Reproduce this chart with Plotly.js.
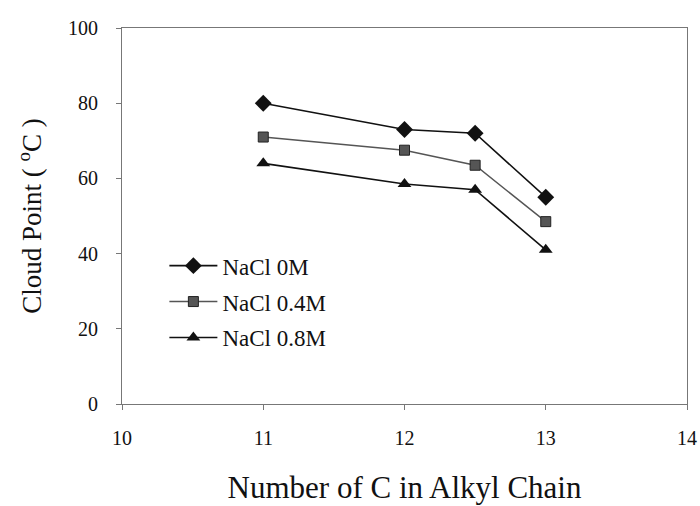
<!DOCTYPE html>
<html>
<head>
<meta charset="utf-8">
<script src="https://cdn.plot.ly/plotly-3.0.1.min.js"></script>
<style>
  html, body { margin: 0; padding: 0; background: #fff; }
  #chart { width: 700px; height: 506px; }
</style>
</head>
<body>
<div id="chart"></div>
<script>
// Number of carbons in the alkyl chain
const carbons = [11, 12, 12.5, 13];

// Cloud point (°C) at each salt concentration
const cloudNaCl0 = [80, 73, 72, 55];
const cloudNaCl04 = [71, 67.5, 63.5, 48.5];
const cloudNaCl08 = [64, 58.5, 57, 41];

const seriesNames = ['NaCl 0M', 'NaCl 0.4M', 'NaCl 0.8M'];

const serif = 'Liberation Serif, Times New Roman, serif';

const traces = [
  {
    x: carbons, y: cloudNaCl0, name: seriesNames[0], legendgroup: 'a',
    mode: 'lines+markers', type: 'scatter',
    line: { color: '#111', width: 1.6 },
    marker: { symbol: 'diamond', size: 13, color: '#111' }
  },
  {
    x: carbons, y: cloudNaCl04, name: seriesNames[1], legendgroup: 'b',
    mode: 'lines+markers', type: 'scatter',
    line: { color: '#555', width: 1.4 },
    marker: { symbol: 'square', size: 10, color: '#555', line: { color: '#222', width: 1 } }
  },
  {
    x: carbons, y: cloudNaCl08, name: seriesNames[2], legendgroup: 'c',
    mode: 'lines+markers', type: 'scatter',
    line: { color: '#111', width: 1.6 },
    marker: { symbol: 'triangle-up', size: 12, color: '#111' }
  }
];

const layout = {
  width: 700, height: 506,
  margin: { l: 122, r: 13, t: 28, b: 102 },
  paper_bgcolor: '#fff',
  plot_bgcolor: '#fff',
  font: { family: serif, color: '#111' },
  showlegend: true,
  legend: {
    x: 0.075, y: 0.425, xanchor: 'left', yanchor: 'top',
    bgcolor: 'rgba(0,0,0,0)',
    font: { family: serif, size: 23, color: '#111' },
    traceorder: 'grouped', tracegroupgap: 3,
    itemwidth: 48
  },
  xaxis: {
    range: [10, 14], dtick: 1, tick0: 10,
    showgrid: false, zeroline: false,
    showline: true, linecolor: '#777', linewidth: 1, mirror: true,
    ticks: 'outside', ticklen: 5, tickcolor: '#777',
    ticklabelstandoff: 11,
    tickfont: { family: serif, size: 20, color: '#111' },
    title: { text: 'Number of C in Alkyl Chain', font: { family: serif, size: 31, color: '#111' }, standoff: 28 }
  },
  yaxis: {
    range: [0, 100], dtick: 20,
    showgrid: false, zeroline: false,
    showline: true, linecolor: '#777', linewidth: 1, mirror: true,
    ticks: 'outside', ticklen: 5, tickcolor: '#777',
    ticklabelstandoff: 14,
    tickfont: { family: serif, size: 20, color: '#111' },
    title: { text: 'Cloud Point ( <sup>o</sup>C )', font: { family: serif, size: 27, color: '#111' }, standoff: 18 }
  }
};

Plotly.newPlot('chart', traces, layout, { displayModeBar: false, staticPlot: true });
</script>
</body>
</html>
